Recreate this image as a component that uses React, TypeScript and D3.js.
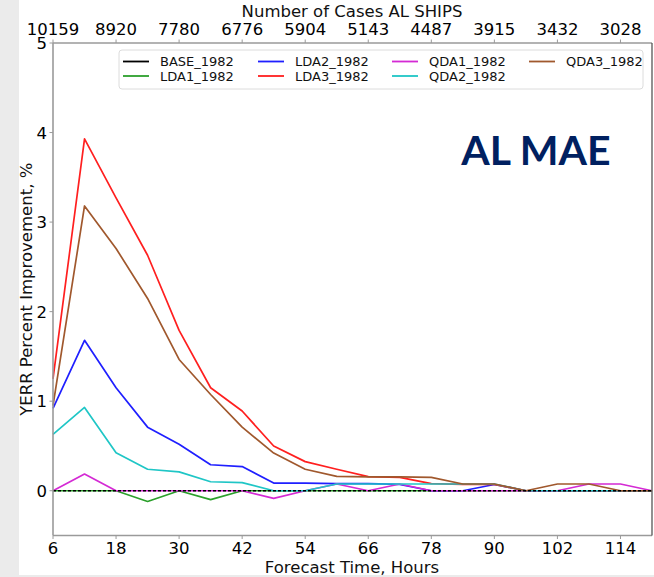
import React from "react";
import * as d3 from "d3";

const hours = [6, 12, 18, 24, 30, 36, 42, 48, 54, 60, 66, 72, 78, 84, 90, 96, 102, 108, 114, 120];
const tickHours = [6, 18, 30, 42, 54, 66, 78, 90, 102, 114];
const caseLabels = ["10159", "8920", "7780", "6776", "5904", "5143", "4487", "3915", "3432", "3028"];
const yTicks = [0, 1, 2, 3, 4, 5];

const base1982 = [0, 0, 0, 0, 0, 0, 0, 0, 0, 0, 0, 0, 0, 0, 0, 0, 0, 0, 0, 0];
const lda1_1982 = [0, 0, 0, -0.12, 0, -0.1, 0, 0, 0, 0, 0, 0, 0, 0, 0, 0, 0, 0, 0, 0];
const lda2_1982 = [0.92, 1.68, 1.15, 0.71, 0.52, 0.29, 0.27, 0.085, 0.085, 0.08, 0.08, 0.07, 0, 0, 0.07, 0, 0, 0, 0, 0];
const lda3_1982 = [1.25, 3.93, 3.27, 2.63, 1.79, 1.15, 0.89, 0.5, 0.325, 0.24, 0.157, 0.15, 0.08, 0.07, 0.07, 0, 0, 0, 0, 0];
const qda1_1982 = [0, 0.186, 0, 0, 0, 0, 0, -0.085, 0, 0.075, 0, 0.075, 0, 0, 0, 0, 0, 0.075, 0.075, 0];
const qda2_1982 = [0.63, 0.93, 0.424, 0.24, 0.21, 0.1, 0.09, 0, 0, 0.075, 0.075, 0.075, 0.075, 0.075, 0.075, 0, 0, 0, 0, 0];
const qda3_1982 = [0.95, 3.18, 2.705, 2.147, 1.466, 1.075, 0.71, 0.42, 0.24, 0.16, 0.155, 0.155, 0.15, 0.075, 0.075, 0, 0.075, 0.075, 0, 0];

const seriesNames = ["BASE_1982", "LDA1_1982", "LDA2_1982", "LDA3_1982", "QDA1_1982", "QDA2_1982", "QDA3_1982"];
const seriesValues = [base1982, lda1_1982, lda2_1982, lda3_1982, qda1_1982, qda2_1982, qda3_1982];
const seriesColors = ["#000000", "#2ca02c", "#1f1fff", "#ff1f1f", "#d42ad4", "#1fc6c6", "#a0582d"];

const W = 654;
const H = 577;
const FONT = "DejaVu Sans, sans-serif";

export default function App() {
  const x = d3.scaleLinear().domain([6, 120]).range([53, 652]);
  const y = d3.scaleLinear().domain([-0.5, 5]).range([535.5, 43]);
  const line = d3
    .line<number>()
    .x((_, i) => x(hours[i]))
    .y((v) => y(v));

  const left = x.range()[0];
  const right = x.range()[1];
  const top = y.range()[1];
  const bottom = y.range()[0];

  const legendCols = [123, 258, 392, 529];
  const legendRows = [61.5, 76];

  const drawOrder = [1, 2, 3, 4, 5, 6];

  return (
    <svg
      width={W}
      height={H}
      style={{ position: "absolute", left: 0, top: 0, display: "block" }}
      fontFamily={FONT}
    >
      <rect x={0} y={0} width={W} height={H} fill="#ebebeb" />
      <rect x={19} y={0} width={W - 19} height={575} fill="#ffffff" />

      <rect x={left} y={top} width={right - left} height={bottom - top} fill="#ffffff" />

      {drawOrder.map((k) => (
        <path
          key={seriesNames[k]}
          d={line(seriesValues[k]) || ""}
          fill="none"
          stroke={seriesColors[k]}
          strokeWidth={1.7}
          strokeLinejoin="round"
        />
      ))}
      <path
        d={line(seriesValues[0]) || ""}
        fill="none"
        stroke={seriesColors[0]}
        strokeWidth={1.7}
        strokeDasharray="3 2"
      />

      <line x1={left} x2={right} y1={top} y2={top} stroke="#9a9a9a" strokeWidth={1.3} />
      <line x1={left} x2={right} y1={bottom} y2={bottom} stroke="#9a9a9a" strokeWidth={1.3} />
      <line x1={left} x2={left} y1={top} y2={bottom} stroke="#9a9a9a" strokeWidth={1.6} />
      <line x1={right} x2={right} y1={top} y2={bottom} stroke="#555555" strokeWidth={1.3} />

      {tickHours.map((h) => (
        <g key={"b" + h}>
          <line x1={x(h)} x2={x(h)} y1={bottom} y2={bottom + 3.5} stroke="#9a9a9a" strokeWidth={1} />
          <text x={x(h)} y={554} fontSize={16.5} textAnchor="middle" fill="#000">
            {h}
          </text>
        </g>
      ))}
      <text x={352} y={573} fontSize={16.5} textAnchor="middle" fill="#111">
        Forecast Time, Hours
      </text>

      {tickHours.map((h, i) => (
        <g key={"t" + h}>
          <line x1={x(h)} x2={x(h)} y1={top} y2={top - 3.5} stroke="#9a9a9a" strokeWidth={1} />
          <text x={x(h)} y={35} fontSize={16.5} textAnchor="middle" fill="#000">
            {caseLabels[i]}
          </text>
        </g>
      ))}
      <text x={352} y={17} fontSize={16.5} textAnchor="middle" fill="#111">
        Number of Cases AL SHIPS
      </text>

      {yTicks.map((t) => (
        <g key={"y" + t}>
          <line x1={left} x2={left - 3.5} y1={y(t)} y2={y(t)} stroke="#9a9a9a" strokeWidth={1} />
          <text x={47} y={y(t) + 6} fontSize={16.5} textAnchor="end" fill="#000">
            {t}
          </text>
        </g>
      ))}
      <text
        transform={`translate(32, ${(top + bottom) / 2}) rotate(-90)`}
        fontSize={16.5}
        textAnchor="middle"
        fill="#111"
      >
        YERR Percent Improvement, %
      </text>

      <rect x={119} y={50} width={524} height={39} rx={3} fill="#ffffff" stroke="#dcdcdc" strokeWidth={1} />
      {seriesNames.map((name, i) => {
        const col = Math.floor(i / 2);
        const row = i % 2;
        const lx = legendCols[col];
        const ly = legendRows[row];
        return (
          <g key={"lg" + name}>
            <line x1={lx} x2={lx + 26} y1={ly} y2={ly} stroke={seriesColors[i]} strokeWidth={1.8} />
            <text x={lx + 37} y={ly + 4.5} fontSize={13} fill="#111">
              {name}
            </text>
          </g>
        );
      })}

      <text x={536} y={165} fontSize={41} fontWeight={700} fontFamily="Lato, Open Sans, sans-serif" textAnchor="middle" fill="#002060">
        AL MAE
      </text>
    </svg>
  );
}
